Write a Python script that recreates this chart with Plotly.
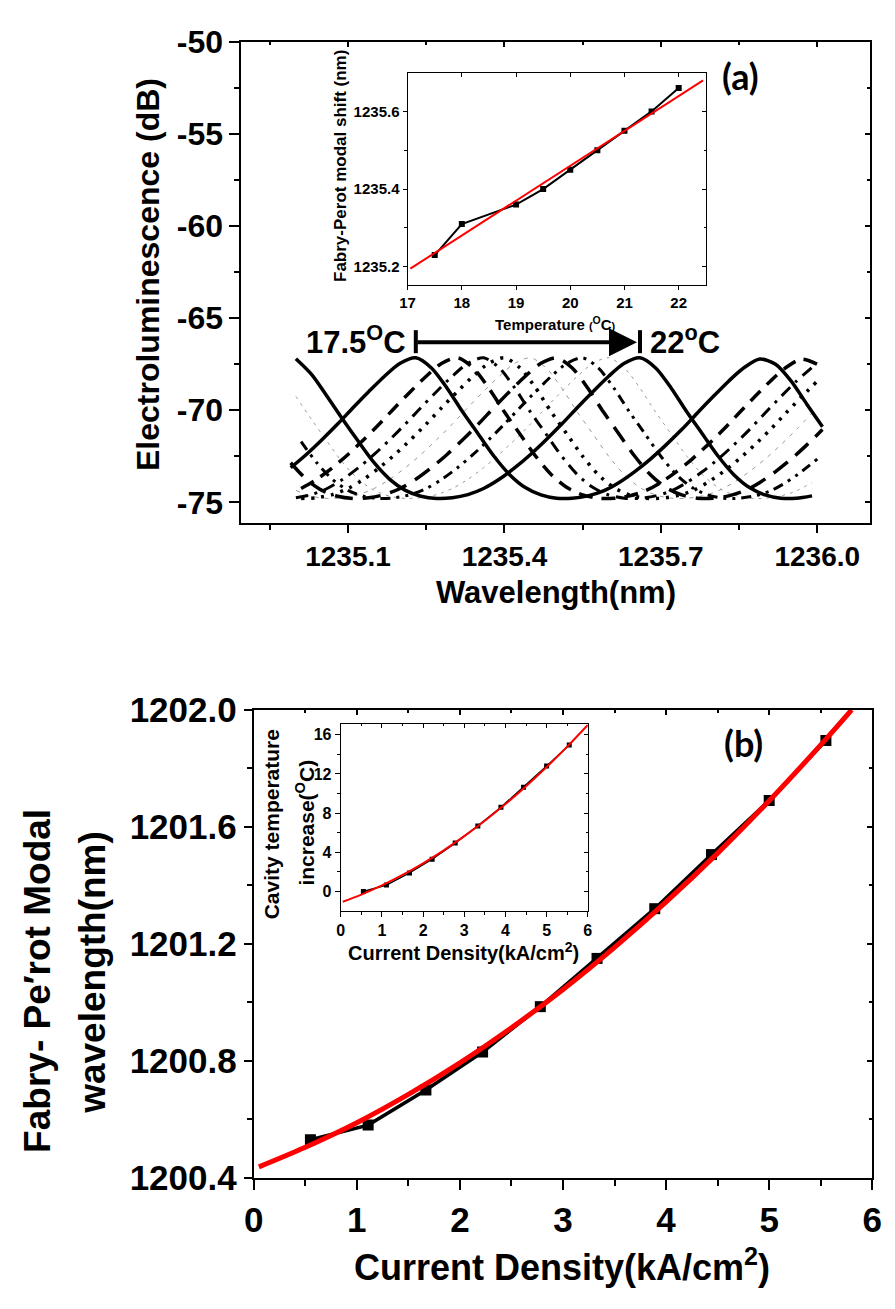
import plotly.graph_objects as go

W, H = 895, 1309
FONT = "Liberation Sans, Arial, sans-serif"
LABEL_FONT = "Lato, Open Sans, sans-serif"

# ---------------- Panel (a) inset: Fabry-Perot mode vs temperature ----------------
temp_c = [17.5, 18, 19, 19.5, 20, 20.5, 21, 21.5, 22]
mode_nm = [1235.23, 1235.31, 1235.36, 1235.40, 1235.45, 1235.50, 1235.55, 1235.60, 1235.66]
linfit_temp = [17.05, 22.45]
linfit_nm = [1235.195, 1235.68]

# ---------------- Panel (a) main: EL spectrum around a Fabry-Perot peak ----------------
# offset from the mode peak (nm) and electroluminescence level (dB)
spec_offset_nm = [-0.66, -0.63, -0.60, -0.57, -0.54, -0.51, -0.48, -0.45, -0.42, -0.39,
                  -0.36, -0.33, -0.30, -0.27, -0.24, -0.21, -0.18, -0.15, -0.12, -0.09,
                  -0.06, -0.03, 0.00, 0.03, 0.06, 0.09, 0.12, 0.15, 0.18, 0.21,
                  0.24, 0.27, 0.30, 0.33, 0.36, 0.39, 0.42, 0.45, 0.48, 0.51,
                  0.54, 0.57, 0.60, 0.63, 0.66, 0.69, 0.72, 0.75, 0.78]
spec_el_db = [-67.20, -68.05, -69.25, -70.50, -71.70, -72.85, -73.75, -74.35, -74.67, -74.79,
              -74.75, -74.58, -74.25, -73.75, -73.12, -72.40, -71.60, -70.75, -69.85, -68.98,
              -68.15, -67.45, -67.15, -67.70, -68.80, -70.10, -71.30, -72.50, -73.50, -74.20,
              -74.60, -74.78, -74.78, -74.65, -74.38, -73.92, -73.33, -72.65, -71.88, -71.05,
              -70.15, -69.27, -68.42, -67.68, -67.22, -67.50, -68.42, -69.67, -70.90]
spec_window_nm = [1235.0, 1236.0]
arrow_level_db = -66.3
arrow_bar_db = [-65.65, -66.9]

# ---------------- Panel (b) ----------------
current_density = [0.55, 1.11, 1.67, 2.22, 2.78, 3.33, 3.89, 4.44, 5.0, 5.55]
fp_wavelength_nm = [1200.53, 1200.58, 1200.70, 1200.83, 1200.985, 1201.15, 1201.32,
                    1201.505, 1201.69, 1201.895]
fit_current = [0.05, 0.5, 1.0, 1.5, 2.0, 2.5, 3.0, 3.5, 4.0, 4.5, 5.0, 5.5, 5.8]
fit_wavelength_nm = [1200.437, 1200.504, 1200.588, 1200.685, 1200.793, 1200.913, 1201.044,
                     1201.188, 1201.343, 1201.510, 1201.689, 1201.880, 1202.000]
cavity_dT = [0.0, 0.66, 1.9, 3.3, 4.95, 6.7, 8.6, 10.65, 12.8, 14.95]
fit_current_inset = [0.05, 0.5, 1.0, 1.5, 2.0, 2.5, 3.0, 3.5, 4.0, 4.5, 5.0, 5.5, 6.0]
fit_dT = [-1.046, -0.310, 0.627, 1.692, 2.884, 4.204, 5.650, 7.224, 8.925, 10.753,
          12.708, 14.790, 17.0]

# ---------------- ticks ----------------
a_x_ticks = [1235.1, 1235.4, 1235.7, 1236.0]
a_x_minor = [1234.95, 1235.25, 1235.55, 1235.85]
a_y_ticks = [-50, -55, -60, -65, -70, -75]
a_y_minor = [-52.5, -57.5, -62.5, -67.5, -72.5]
ia_x_ticks = [17, 18, 19, 20, 21, 22]
ia_y_ticks = [1235.2, 1235.4, 1235.6]
ia_y_minor = [1235.3, 1235.5]
b_x_ticks = [0, 1, 2, 3, 4, 5, 6]
b_x_minor = [0.5, 1.5, 2.5, 3.5, 4.5, 5.5]
b_y_ticks = [1200.4, 1200.8, 1201.2, 1201.6, 1202.0]
b_y_minor = [1200.6, 1201.0, 1201.4, 1201.8]
ib_x_ticks = [0, 1, 2, 3, 4, 5, 6]
ib_x_minor = [0.5, 1.5, 2.5, 3.5, 4.5, 5.5]
ib_y_ticks = [0, 4, 8, 12, 16]
ib_y_minor = [2, 6, 10, 14]


def px(xp):
    return xp / W


def py(yp):
    return 1 - yp / H


# subplot geometry in pixels: (left, right, top, bottom)
geo = {
    "a": (236.7, 880.0, 22.7, 518.0),
    "ia": (406.7, 711.7, 55.0, 273.3),
    "b": (249.3, 882.0, 711.0, 1193.3),
    "ib": (338.3, 591.0, 726.0, 918.3),
}
axis_ids = {"a": ("x", "y"), "ia": ("x2", "y2"), "b": ("x3", "y3"), "ib": ("x4", "y4")}

fig = go.Figure()

# ---- spectra (panel a)
spec_styles = [
    dict(color="black", width=3.5, dash="solid"),
    dict(color="black", width=3.5, dash="14px,9px"),
    dict(color="black", width=3.0, dash="12px,7px,3px,7px"),
    dict(color="black", width=3.5, dash="3px,7px"),
    dict(color="#9a9a9a", width=1.0, dash="4px,6px"),
    dict(color="black", width=3.5, dash="18px,10px"),
    dict(color="black", width=3.0, dash="10px,6px,3px,6px,3px,6px"),
    dict(color="#9a9a9a", width=1.0, dash="3px,5px"),
    dict(color="black", width=3.5, dash="solid"),
]
order = [4, 7, 1, 2, 3, 5, 6, 0, 8]
for i in order:
    peak = mode_nm[i]
    xs, ys = [], []
    for d, v in zip(spec_offset_nm, spec_el_db):
        w = peak + d
        if spec_window_nm[0] - 0.012 <= w <= spec_window_nm[1] + 0.012:
            xs.append(w)
            ys.append(v)
    fig.add_trace(go.Scatter(x=xs, y=ys, mode="lines", xaxis="x", yaxis="y",
                             line=dict(shape="spline", smoothing=0.8, **spec_styles[i]),
                             showlegend=False, hoverinfo="skip"))

# end bars of the temperature arrow
fig.add_trace(go.Scatter(x=[mode_nm[0], mode_nm[0], None, mode_nm[-1], mode_nm[-1]],
                         y=[arrow_bar_db[0], arrow_bar_db[1], None, arrow_bar_db[0], arrow_bar_db[1]],
                         mode="lines", line=dict(color="black", width=4),
                         xaxis="x", yaxis="y", showlegend=False, hoverinfo="skip"))

# ---- inset (a)
fig.add_trace(go.Scatter(x=temp_c, y=mode_nm, mode="lines+markers", xaxis="x2", yaxis="y2",
                         line=dict(color="black", width=2),
                         marker=dict(symbol="square", size=6, color="black"),
                         showlegend=False, hoverinfo="skip"))
fig.add_trace(go.Scatter(x=linfit_temp, y=linfit_nm, mode="lines", xaxis="x2", yaxis="y2",
                         line=dict(color="#ff0000", width=2),
                         showlegend=False, hoverinfo="skip"))

# ---- panel (b)
fig.add_trace(go.Scatter(x=current_density, y=fp_wavelength_nm, mode="lines+markers",
                         xaxis="x3", yaxis="y3",
                         line=dict(color="black", width=3.5),
                         marker=dict(symbol="square", size=11, color="black"),
                         showlegend=False, hoverinfo="skip"))
fig.add_trace(go.Scatter(x=fit_current, y=fit_wavelength_nm, mode="lines", xaxis="x3", yaxis="y3",
                         line=dict(color="#ff0000", width=5, shape="spline"),
                         showlegend=False, hoverinfo="skip"))

# ---- inset (b)
fig.add_trace(go.Scatter(x=current_density, y=cavity_dT, mode="lines+markers",
                         xaxis="x4", yaxis="y4",
                         line=dict(color="black", width=1.5),
                         marker=dict(symbol="square", size=5, color="black"),
                         showlegend=False, hoverinfo="skip"))
fig.add_trace(go.Scatter(x=fit_current_inset, y=fit_dT, mode="lines", xaxis="x4", yaxis="y4",
                         line=dict(color="#ff0000", width=2, shape="spline"),
                         showlegend=False, hoverinfo="skip"))

# dummy traces for the mirrored inside-tick axes
for k in range(5, 9):
    fig.add_trace(go.Scatter(x=[None], y=[None], xaxis=f"x{k}", yaxis=f"y{k}",
                             showlegend=False, hoverinfo="skip"))


def fmt(vals, f):
    return [f.format(v) for v in vals]


def base_axis(rng, domain, anchor, tickvals, ticktext, minorvals, fs, tlen, mlen, lw, tw):
    return dict(range=rng, domain=domain, anchor=anchor, showgrid=False, zeroline=False,
                showline=True, linecolor="black", linewidth=lw, mirror=True,
                ticks="outside", ticklen=tlen, tickwidth=tw, tickcolor="black",
                tickmode="array", tickvals=tickvals, ticktext=ticktext,
                tickfont=dict(family=FONT, size=fs, color="black", weight="bold"),
                minor=dict(tickmode="array", tickvals=minorvals, ticks="outside",
                           ticklen=mlen, tickwidth=tw, tickcolor="black", showgrid=False),
                fixedrange=True)


def mirror_axis(rng, overlay, anchor, side, tickvals, minorvals, tlen, tw):
    return dict(range=rng, overlaying=overlay, anchor=anchor, side=side, showgrid=False,
                zeroline=False, showline=False, showticklabels=False,
                ticks="inside", ticklen=tlen, tickwidth=tw, tickcolor="black",
                tickmode="array", tickvals=tickvals,
                minor=dict(tickmode="array", tickvals=minorvals, ticks="inside",
                           ticklen=max(2, tlen - 2), tickwidth=tw, tickcolor="black"),
                fixedrange=True)


ranges = {
    "a": ([1234.8955, 1236.1018], [-76.1, -50.0]),
    "ia": ([17.0, 22.5], [1235.1525, 1235.698]),
    "b": ([0.0, 6.0], [1200.4, 1202.0]),
    "ib": ([0.0, 6.0], [-1.98, 17.06]),
}


def dom(key):
    l, r, t, b = geo[key]
    return [px(l), px(r)], [py(b), py(t)]


layout = dict(width=W, height=H, margin=dict(l=0, r=0, t=0, b=0),
              paper_bgcolor="white", plot_bgcolor="rgba(0,0,0,0)", showlegend=False)

dx, dy = dom("a")
layout["xaxis"] = base_axis(ranges["a"][0], dx, "y", a_x_ticks, fmt(a_x_ticks, "{:.1f}"),
                            a_x_minor, 28, 8, 5, 2, 2)
layout["yaxis"] = base_axis(ranges["a"][1], dy, "x", a_y_ticks, fmt(a_y_ticks, "{:d}"),
                            a_y_minor, 32, 10, 5, 2, 2)
dx, dy = dom("ia")
layout["xaxis2"] = base_axis(ranges["ia"][0], dx, "y2", ia_x_ticks, fmt(ia_x_ticks, "{:d}"),
                             [], 15, 4, 3, 1.2, 1.2)
layout["yaxis2"] = base_axis(ranges["ia"][1], dy, "x2", ia_y_ticks, fmt(ia_y_ticks, "{:.1f}"),
                             ia_y_minor, 15, 4, 3, 1.2, 1.2)
dx, dy = dom("b")
layout["xaxis3"] = base_axis(ranges["b"][0], dx, "y3", b_x_ticks, fmt(b_x_ticks, "{:d}"),
                             b_x_minor, 35, 10, 6, 2, 2)
layout["yaxis3"] = base_axis(ranges["b"][1], dy, "x3", b_y_ticks, fmt(b_y_ticks, "{:.1f}"),
                             b_y_minor, 35, 8, 5, 2, 2)
dx, dy = dom("ib")
layout["xaxis4"] = base_axis(ranges["ib"][0], dx, "y4", ib_x_ticks, fmt(ib_x_ticks, "{:d}"),
                             ib_x_minor, 16, 5, 3, 1.2, 1.2)
layout["yaxis4"] = base_axis(ranges["ib"][1], dy, "x4", ib_y_ticks, fmt(ib_y_ticks, "{:d}"),
                             ib_y_minor, 16, 5, 3, 1.2, 1.2)

mirror_specs = [
    (5, "a", "x", "y", a_x_ticks, a_x_minor, a_y_ticks, a_y_minor, 5, 1.5),
    (6, "ia", "x2", "y2", ia_x_ticks, [], ia_y_ticks, ia_y_minor, 4, 1),
    (7, "b", "x3", "y3", b_x_ticks, b_x_minor, b_y_ticks, b_y_minor, 5, 1.5),
    (8, "ib", "x4", "y4", ib_x_ticks, ib_x_minor, ib_y_ticks, ib_y_minor, 4, 1),
]
for k, key, bx, by, xt, xm, yt, ym, tl, tw in mirror_specs:
    layout[f"xaxis{k}"] = mirror_axis(ranges[key][0], bx, f"y{k}", "top", xt, xm, tl, tw)
    layout[f"yaxis{k}"] = mirror_axis(ranges[key][1], by, f"x{k}", "right", yt, ym, tl, tw)

fig.update_layout(**layout)


def note(text, key, xp, yp, size, angle=None, family=FONT):
    """Text placed relative to the frame of subplot `key` (pixel position -> domain fraction)."""
    l, r, t, b = geo[key]
    xa, ya = axis_ids[key]
    kw = dict(text=text, x=(xp - l) / (r - l), y=(b - yp) / (b - t),
              xref=f"{xa} domain", yref=f"{ya} domain",
              showarrow=False, xanchor="center", yanchor="middle",
              font=dict(family=family, size=size, color="black", weight="bold"))
    if angle is not None:
        kw["textangle"] = angle
    fig.add_annotation(**kw)


# axis titles
note("Electroluminescence (dB)", "a", 141, 262, 32, angle=-90)
note("Wavelength(nm)", "a", 558, 590, 31)
note("Fabry-Perot modal shift (nm)", "ia", 338, 150, 17, angle=-90)
note("Temperature <span style='font-size:11px'>(</span><sup>O</sup>C<span style='font-size:11px'>)</span>",
     "ia", 558, 313, 15)
note("Fabry- Pe\u2032rot Modal", "b", 28, 990, 37, angle=-90)
note("wavelength(nm)", "b", 85, 982, 37, angle=-90)
note("Current Density(kA/cm<sup>2</sup>)", "b", 565, 1283, 36)
note("Cavity temperature", "ib", 267, 829, 21, angle=-90)
note("increase(<sup>O</sup>C)", "ib", 302, 827, 21, angle=-90)
note("Current Density(kA/cm<sup>2</sup>)", "ib", 464, 960, 20)
note("(a)", "a", 747, 58, 36, family=LABEL_FONT)
note("(b)", "b", 750, 745, 36, family=LABEL_FONT)

# temperature arrow in panel (a)
fig.add_annotation(x=mode_nm[-1], y=arrow_level_db, ax=mode_nm[0], ay=arrow_level_db,
                   xref="x", yref="y", axref="x", ayref="y", text="",
                   showarrow=True, arrowhead=2, arrowsize=1.4, arrowwidth=4,
                   arrowcolor="black", standoff=3)
fig.add_annotation(x=mode_nm[0], y=arrow_level_db, xref="x", yref="y", text="17.5<sup>O</sup>C",
                   showarrow=False, xanchor="right", yanchor="middle", xshift=-8, yshift=2,
                   font=dict(family=FONT, size=31, color="black", weight="bold"))
fig.add_annotation(x=mode_nm[-1], y=arrow_level_db, xref="x", yref="y", text="22<sup>o</sup>C",
                   showarrow=False, xanchor="left", yanchor="middle", xshift=8, yshift=2,
                   font=dict(family=FONT, size=31, color="black", weight="bold"))

fig.write_html("out.html")
